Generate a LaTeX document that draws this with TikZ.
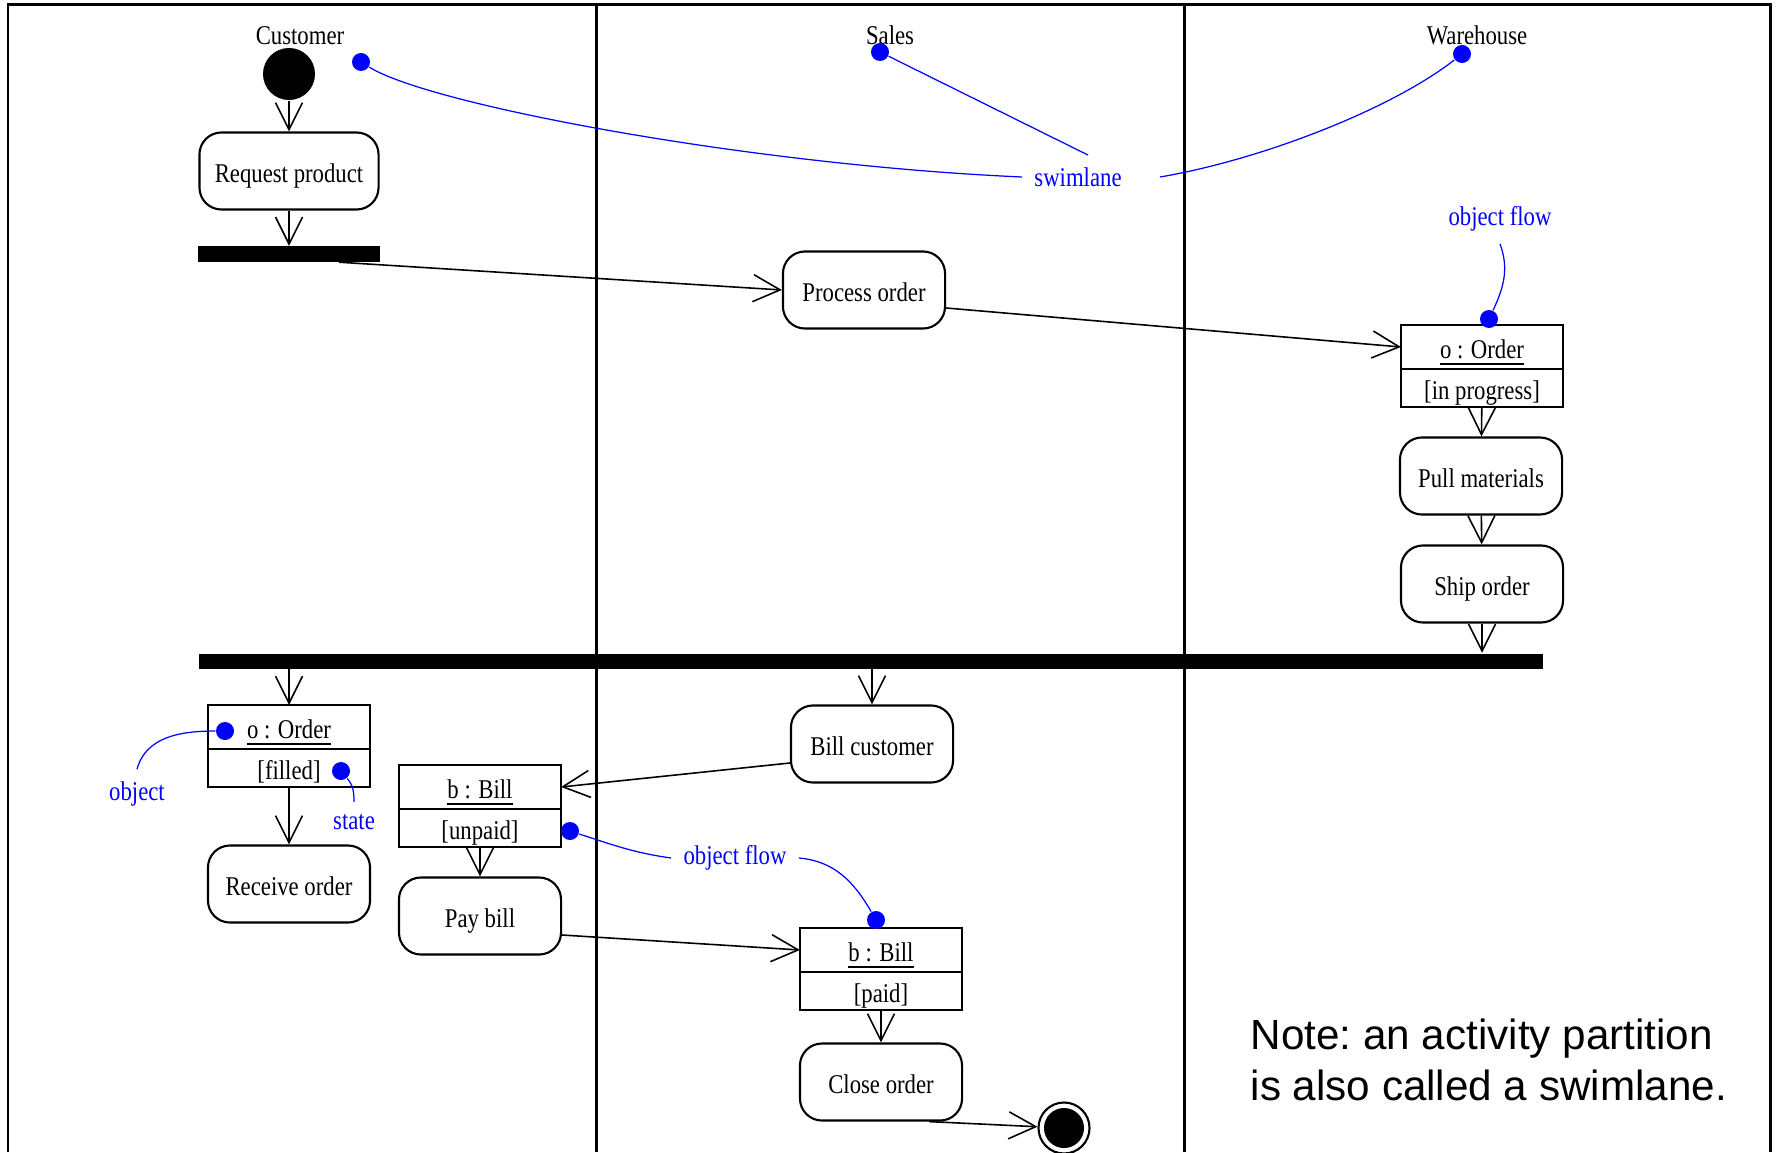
\documentclass[tikz,border=0pt]{standalone}
\usepackage{fontspec}
\setmainfont{Liberation Serif}[FakeStretch=0.84]
\newfontfamily\notefont{Liberation Sans}
\usetikzlibrary{arrows.meta,calc}

\tikzset{
  action/.style={rectangle, draw, rounded corners=0.22cm, line width=0.6pt,
    minimum width=1.62cm, minimum height=0.77cm, inner sep=0pt,
    text height=0.66em, text depth=0pt},
  objname/.style={rectangle, draw, line width=0.6pt, outer sep=0pt,
    minimum width=1.62cm, minimum height=0.44cm, inner sep=0pt,
    text height=0.66em, text depth=0pt},
  objstate/.style={rectangle, draw, line width=0.6pt, anchor=north, outer sep=0pt,
    minimum width=1.62cm, minimum height=0.38cm, inner sep=0pt,
    text height=0.66em, text depth=0pt},
  bar/.style={rectangle, fill=black, inner sep=0pt, minimum height=0.15cm},
  flow/.style={-{Straight Barb[length=0.27cm,width=0.27cm]}, line width=0.45pt},
  dot/.style={circle, fill=blue, inner sep=0pt, minimum size=0.18cm},
  remark/.style={blue, line width=0.35pt},
  lane/.style={line width=0.85pt}
}

\begin{document}
\begin{tikzpicture}[x=0.01cm, y=-0.01cm, font=\fontsize{7.7}{9}\selectfont]
\useasboundingbox (0,0) rectangle (1777,1152);

\draw[lane] (8,1152) -- (8,5) -- (1770,5) -- (1770,1152);
\draw[lane] (596,5) -- (596,1152);
\draw[lane] (1184,5) -- (1184,1152);

\node (cust) at (300,45) [anchor=base] {Customer};
\node (sales) at (890,45) [anchor=base] {Sales};
\node (wh) at (1477,45) [anchor=base] {Warehouse};

% customer lane
\node (start) at (289,74) [circle, fill=black, minimum size=0.52cm, inner sep=0pt] {};
\node (req) at (289,171) [action, minimum width=1.79cm] {Request product};
\node (bar1) at (289,254) [bar, minimum width=1.82cm] {};

% sales and warehouse lanes
\node (proc) at (864,290) [action] {Process order};
\node (o1) at (1482,347) [objname] {\underline{o : Order}};
\node (o1s) at (o1.south) [objstate] {[in progress]};
\node (pull) at (1481,476) [action] {Pull materials};
\node (ship) at (1482,584) [action] {Ship order};

\node (bar2) at (871,661) [bar, minimum width=13.44cm] {};

\node (o2) at (289,727) [objname] {\underline{o : Order}};
\node (o2s) at (o2.south) [objstate] {[filled]};
\node (recv) at (289,884) [action] {Receive order};

\node (bill) at (480,787) [objname] {\underline{b : Bill}};
\node (bills) at (bill.south) [objstate] {[unpaid]};
\node (pay) at (480,916) [action] {Pay bill};

\node (billc) at (872,744) [action] {Bill customer};
\node (paid) at (881,950) [objname] {\underline{b : Bill}};
\node (paids) at (paid.south) [objstate] {[paid]};
\node (close) at (881,1082) [action] {Close order};
\node (final) at (1064,1128) [circle, draw, line width=0.6pt, minimum size=0.51cm, inner sep=0pt] {};
\fill (final) circle (0.2cm);

\draw[flow] (start) -- (req);
\draw[flow] (req) -- (bar1);
\draw[flow] ($(bar1.south)+(50,0)$) -- (proc.west);
\draw[flow] ($(proc.east)+(0,18)$) -- (o1.west);
\draw[flow] (o1s) -- (pull);
\draw[flow] (pull) -- (ship);
\draw[flow] (ship) -- (ship |- bar2.north);
\draw[flow] (bar2.south -| o2) -- (o2);
\draw[flow] (bar2.south -| billc) -- (billc);
\draw[flow] (o2s) -- (recv);
\draw[flow] ($(billc.west)+(0,19)$) -- (bill.east);
\draw[flow] (bills) -- (pay);
\draw[flow] ($(pay.east)+(0,19)$) -- (paid.west);
\draw[flow] (paids) -- (close);
\draw[flow] ($(close.south east)+(-34,0)$) -- (final);

% blue annotations
\node (swl) at (1078,177) [blue] {swimlane};
\node (ofa) at (1500,219) [blue] {object flow};
\node (objl) at (137,794) [blue] {object};
\node (stl) at (354,822) [blue] {state};
\node (ofb) at (735,858) [blue] {object flow};

\node (da) at (361,62) [dot] {};
\node (db) at (880,52) [dot] {};
\node (dc) at (1462,54) [dot] {};
\node (dd) at (1489,319) [dot] {};
\node (de) at (225,731) [dot] {};
\node (df) at (341,771) [dot] {};
\node (dg) at (570,831) [dot] {};
\node (dh) at (876,920) [dot] {};

\draw[remark] (da) .. controls (430,105) and (750,165) .. (swl.west);
\draw[remark] (db) -- ($(swl.north)+(10,0)$);
\draw[remark] ($(swl.east)+(26,0)$) .. controls (1260,160) and (1390,110) .. (dc);
\draw[remark] (ofa.south) to[out=-70, in=65] (dd);
\draw[remark] (de) to[out=180, in=75] (objl.north);
\draw[remark] (df) to[out=-50, in=90] (stl.north);
\draw[remark] (dg) to[out=-18, in=172] (ofb.west);
\draw[remark] (ofb.east) to[out=-5, in=120] (dh);

\node (note) at (1250,1018) [anchor=north west, inner sep=0pt, align=left,
  font=\notefont\fontsize{12}{14.5}\selectfont\frenchspacing]
  {Note: an activity partition\\is also called a swimlane.};

\end{tikzpicture}
\end{document}
